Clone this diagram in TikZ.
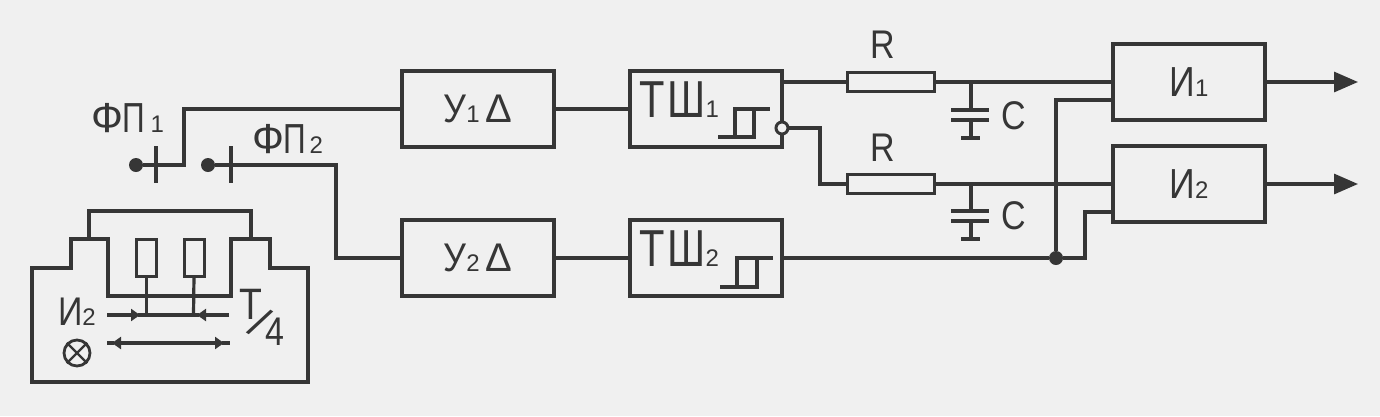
\documentclass[tikz,border=0pt]{standalone}
\usepackage{fontspec}
\setmainfont{Liberation Sans}
\usetikzlibrary{arrows.meta,calc}
\definecolor{ink}{HTML}{363636}
\definecolor{paper}{HTML}{F0F0F0}
\newcommand{\fsz}[1]{\fontsize{#1}{#1}\selectfont}
\newcommand{\nar}[2]{\scalebox{#1}[1]{#2}}
\tikzset{
  wire/.style={draw=ink,line width=3.2pt,line cap=butt,line join=miter},
  blockbox/.style={draw=ink,line width=3.4pt,rectangle,inner sep=0pt,outer sep=0pt,minimum width=152pt,minimum height=76pt,text=ink},
  resbox/.style={draw=ink,line width=3.2pt,rectangle,inner sep=0pt,outer sep=0pt,minimum width=87pt,minimum height=19pt},
  smallres/.style={draw=ink,line width=3pt,rectangle,inner sep=0pt,outer sep=0pt,minimum width=20pt,minimum height=37pt},
  soliddot/.style={circle,fill=ink,inner sep=0pt,outer sep=0pt,minimum size=14pt},
  bubble/.style={circle,draw=ink,line width=3pt,fill=paper,inner sep=0pt,outer sep=0pt,minimum size=12pt},
  lbl/.style={inner sep=0pt,outer sep=0pt,anchor=base west,text=ink},
  bigtip/.style={-{Triangle[length=24pt,width=20pt]}},
  smalltip/.style={-{Triangle[length=9pt,width=12pt]}},
}
\begin{document}
\begin{tikzpicture}[x=1pt,y=-1pt]
\fill[paper] (0,0) rectangle (1380,416);
\useasboundingbox (0,0) rectangle (1380,416);

% main blocks
\node[blockbox] (uone) at (478,109) {\fsz{40}\nar{0.9}{У}\fsz{24}1\hspace{6pt}\fsz{40}Δ};
\node[blockbox] (utwo) at (478,258) {\fsz{40}\nar{0.9}{У}\fsz{24}2\hspace{6pt}\fsz{40}Δ};
\node[blockbox] (tone) at (706,109) {};
\node[blockbox] (ttwo) at (706,258) {};
\node[blockbox] (ione) at (1189,82) {\fsz{42}\nar{0.85}{И}\fsz{24}1};
\node[blockbox] (itwo) at (1189,184) {\fsz{42}\nar{0.85}{И}\fsz{24}2};

% threshold labels
\node[lbl] (tonetext) at (639,117) {\fsz{52}\nar{0.8}{Т}\hspace{3pt}\nar{0.8}{Ш}\fsz{24}1};
\node[lbl] (ttwotext) at (639,266) {\fsz{52}\nar{0.8}{Т}\hspace{3pt}\nar{0.8}{Ш}\fsz{24}2};

% hysteresis symbols
\draw[wire] (718,137) -- (754,137) -- (754,109) -- (770,109);
\draw[wire] (735,137) -- (735,109) -- (754,109);
\draw[wire] (720,287) -- (757,287) -- (757,258) -- (773,258);
\draw[wire] (737,287) -- (737,258) -- (757,258);

% contacts
\node[soliddot,minimum size=14pt] (dotone) at (136,165) {};
\coordinate (barone) at (156,165);
\node[soliddot,minimum size=14pt] (dottwo) at (208,165) {};
\coordinate (bartwo) at (231,165);
\draw[wire] ($(barone)+(0,-19)$) -- ($(barone)+(0,18)$);
\draw[wire] ($(bartwo)+(0,-19)$) -- ($(bartwo)+(0,18)$);
\node[lbl] (fpone) at (91,132) {\fsz{42}Ф\nar{0.75}{П}\fsz{24}\hspace{5pt}1};
\node[lbl] (fptwo) at (252,153) {\fsz{42}Ф\nar{0.75}{П}\fsz{24}\hspace{3pt}2};

\coordinate (jone) at (184,109);
\coordinate (jtwo) at (336,165);
\draw[wire] (dotone) -- (barone) -- (184,165) -- (jone) -- (uone.west);
\draw[wire] (dottwo) -- (bartwo) -- (jtwo) -- (336,258) -- (utwo.west);
\draw[wire] (uone.east) -- (tone.west);
\draw[wire] (utwo.east) -- (ttwo.west);

% RC
\node[resbox] (rone) at (891,82) {};
\node[resbox] (rtwo) at (891,184) {};
\node[lbl] (rlone) at (870,58) {\fsz{40}\nar{0.85}{R}};
\node[lbl] (rltwo) at (870,161) {\fsz{40}\nar{0.85}{R}};
\node[bubble] (bub) at (782,128) {};
\coordinate (tonea) at (782,82);
\draw[wire] (tonea) -- (rone.west);
\draw[wire] (rone.east) -- (ione.west);
\draw[wire] (bub.east) -- (820,128) -- (820,184) -- (rtwo.west);
\draw[wire] (rtwo.east) -- (itwo.west);

% capacitors
\coordinate (cone) at (971,82);
\coordinate (ctwo) at (971,184);
\draw[wire] (cone) -- (971,110);
\draw[wire] (951,110) -- (989,110);
\draw[wire] (951,120) -- (989,120);
\draw[wire] (971,120) -- (971,138);
\draw[wire] (961,138) -- (980,138);
\draw[wire] (ctwo) -- (971,211);
\draw[wire] (951,211) -- (989,211);
\draw[wire] (951,221) -- (989,221);
\draw[wire] (971,221) -- (971,239);
\draw[wire] (961,239) -- (980,239);
\node[lbl] (clone) at (1001,129) {\fsz{40}\nar{0.85}{C}};
\node[lbl] (cltwo) at (1001,229) {\fsz{40}\nar{0.85}{C}};

% junction
\node[soliddot] (junc) at (1056,258) {};
\draw[wire] (ttwo.east) -- (junc);
\draw[wire] (junc) -- (1056,100) -- (1113,100);
\draw[wire] (junc) -- (1085,258) -- (1085,212) -- (1113,212);

% outputs
\coordinate (outone) at (1358,82);
\coordinate (outtwo) at (1358,184);
\draw[wire,bigtip] (ione.east) -- (outone);
\draw[wire,bigtip] (itwo.east) -- (outtwo);

% housing
\draw[wire] (32,268) -- (71,268) -- (71,239) -- (108,239) -- (108,296) -- (231,296) -- (231,239) -- (270,239) -- (270,268) -- (308,268) -- (308,382) -- (32,382) -- cycle;
\draw[wire] (89,239) -- (89,211) -- (251,211) -- (251,239);
\node[smallres] (sone) at (146.5,257.5) {};
\node[smallres] (stwo) at (194,257.5) {};
\coordinate (mone) at (146.5,315);
\coordinate (mtwo) at (193.5,315);
\draw[wire] (sone.south) -- (mone);
\draw[wire] (stwo.south) -- (mtwo);
\coordinate (al) at (107,315);
\coordinate (ar) at (229,315);
\draw[wire,smalltip] (al) -- (140,315);
\draw[wire,smalltip] (ar) -- (197,315);
\draw[wire] (138,315) -- (199,315);
\coordinate (bl) at (107,343);
\coordinate (br) at (230,343);
\coordinate (bm) at (170,343);
\draw[wire,smalltip] (bm) -- (112,343);
\draw[wire,smalltip] (bm) -- (224,343);
\draw[wire] (222,343) -- (br);
\draw[wire] (114,343) -- (bl);
\node[lbl] (itext) at (58,325) {\fsz{40}\nar{0.85}{И}\fsz{24}2};
\node[circle,draw=ink,line width=2.8pt,minimum size=26pt,inner sep=0pt] (lamp) at (77,353) {};
\draw[ink,line width=2.4pt] (lamp.45) -- (lamp.225);
\draw[ink,line width=2.4pt] (lamp.135) -- (lamp.315);
\node[lbl] (ttext) at (239,319) {\fsz{44}\nar{0.85}{Т}};
\node[inner sep=0pt,text=ink,rotate=-32] (slash) at (260.5,322) {\fsz{44}/};
\node[lbl] (ftext) at (265,345) {\fsz{40}\nar{0.85}{4}};
\end{tikzpicture}
\end{document}
